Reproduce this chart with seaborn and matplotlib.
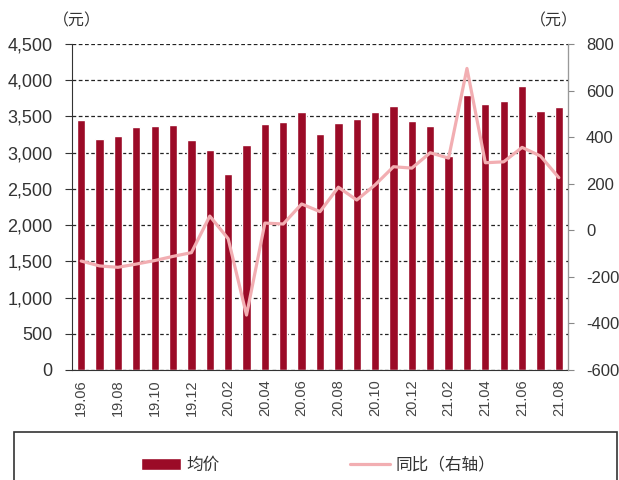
import matplotlib
matplotlib.use('Agg')
import matplotlib.pyplot as plt
import matplotlib.ticker as mticker
from matplotlib.patches import Rectangle
import numpy as np
import pandas as pd
import seaborn as sns

months = ['19.06', '19.07', '19.08', '19.09', '19.10', '19.11', '19.12',
          '20.01', '20.02', '20.03', '20.04', '20.05', '20.06', '20.07',
          '20.08', '20.09', '20.10', '20.11', '20.12',
          '21.01', '21.02', '21.03', '21.04', '21.05', '21.06', '21.07', '21.08']
avg_price = [3445, 3190, 3230, 3350, 3370, 3380, 3170,
             3030, 2710, 3110, 3390, 3420, 3560, 3260,
             3410, 3470, 3555, 3650, 3435,
             3370, 2950, 3795, 3675, 3720, 3915, 3580, 3635]
yoy = [-132, -153, -159, -145, -130, -112, -96,
       61, -36, -364, 31, 27, 113, 80,
       185, 130, 195, 273, 267,
       333, 310, 695, 290, 294, 356, 319, 226]

bar_color = '#9b0b27'
line_color = '#f2aeb2'
text_color = '#333333'
cjk = ['Noto Sans CJK SC', 'DejaVu Sans']

sns.set_style('white')
plt.rcParams['font.family'] = ['Liberation Sans', 'Noto Sans CJK SC', 'DejaVu Sans']
plt.rcParams['axes.unicode_minus'] = False

df = pd.DataFrame({'month': months, 'avg': avg_price, 'yoy': yoy})
df['pos'] = np.arange(len(df))

fig = plt.figure(figsize=(6.19, 4.80), dpi=100)
ax = fig.add_axes((72 / 619, 1 - 370 / 480, (568 - 72) / 619, (370 - 44) / 480))

sns.barplot(data=df, x='month', y='avg', color=bar_color, saturation=1,
            width=0.45, ax=ax)
ax.set_ylim(0, 4500)
ax.set_xlim(-0.5, len(months) - 0.5)
ax.yaxis.set_major_locator(mticker.MultipleLocator(500))
ax.yaxis.set_major_formatter(mticker.FuncFormatter(lambda v, p: f'{int(v):,}'))
ax.set_axisbelow(True)
ax.grid(axis='y', color='#222222', linestyle=(0, (3, 2)), linewidth=0.9)
ax.set_xlabel('')
ax.set_ylabel('')

ax2 = ax.twinx()
sns.lineplot(data=df, x='pos', y='yoy', color=line_color, linewidth=2.3, ax=ax2)
ax2.set_ylim(-600, 800)
ax2.yaxis.set_major_locator(mticker.MultipleLocator(200))
ax2.set_ylabel('')
ax2.set_xlabel('')

# x ticks: labels every second month, tick marks between bars
ax.set_xticks(np.arange(0, len(months), 2))
ax.set_xticklabels(months[::2], rotation=90, fontsize=10.5, color='#444444')
ax.set_xticks(np.arange(-0.5, len(months), 1), minor=True)
ax.tick_params(axis='x', which='major', length=0, pad=7)
ax.tick_params(axis='x', which='minor', length=4, width=0.8, color='#333333', direction='out')
ax.tick_params(axis='y', length=5, width=0.8, color='#333333', labelsize=13,
               labelcolor=text_color, pad=9, left=True)
ax2.tick_params(axis='y', length=4, width=0.8, color='#888888', labelsize=12,
                labelcolor=text_color, pad=9, right=True)

for a in (ax, ax2):
    a.spines['top'].set_visible(False)
ax.spines['left'].set_color('#333333')
ax.spines['bottom'].set_color('#333333')
ax2.spines['left'].set_visible(False)
ax2.spines['bottom'].set_visible(False)
ax2.spines['right'].set_color('#999999')

fig.text(77 / 619, 1 - 21 / 480, '（元）', ha='center', va='center',
         fontsize=11.5, color=text_color, family=cjk)
fig.text(554 / 619, 1 - 21 / 480, '（元）', ha='center', va='center',
         fontsize=11.5, color=text_color, family=cjk)

# legend frame running off the bottom edge
fig.add_artist(Rectangle((14 / 619, -0.05), (617 - 14) / 619, (480 - 432) / 480 + 0.05,
                         transform=fig.transFigure, fill=False,
                         edgecolor='#333333', linewidth=1.2))
handles = [ax.patches[0], ax2.lines[0]]
fig.legend(handles, ['均价', '同比（右轴）'], loc='center',
           bbox_to_anchor=(318 / 619, 1 - 465 / 480), ncol=2, frameon=False,
           prop={'family': cjk, 'size': 12}, handlelength=2.4,
           handletextpad=0.35, columnspacing=7.8, labelcolor=text_color)

fig.savefig('out.png', dpi=100)
